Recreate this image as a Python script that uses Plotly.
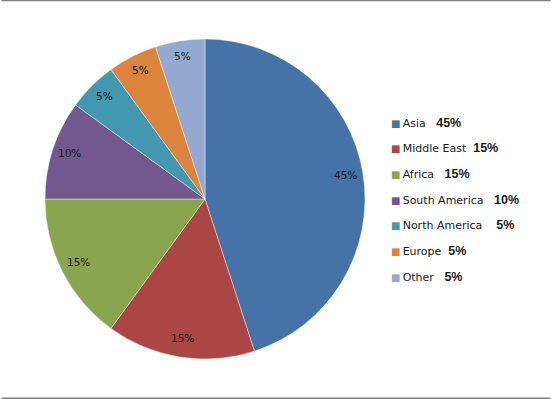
import math
import plotly.graph_objects as go

categories = ["Asia", "Middle East", "Africa", "South America", "North America", "Europe", "Other"]
values = [45, 15, 15, 10, 5, 5, 5]
value_labels = ["45%", "15%", "15%", "10%", "5%", "5%", "5%"]
colors = ["#4572A7", "#AA4643", "#89A54E", "#71588F", "#4198AF", "#DB843D", "#93A9CF"]
legend_gaps = [3, 2, 3, 3, 4, 2, 3]

W, H = 552, 399
CX, CY, R = 205, 199, 160

fig = go.Figure()
fig.add_trace(go.Pie(
    labels=categories,
    values=values,
    sort=False,
    direction="clockwise",
    rotation=0,
    marker=dict(colors=colors, line=dict(color="rgba(255,255,255,0.6)", width=0.7)),
    textinfo="none",
    hoverinfo="label+percent",
    showlegend=False,
    domain=dict(x=[(CX - R) / W, (CX + R) / W], y=[1 - (CY + R) / H, 1 - (CY - R) / H]),
))

annotations = []
total = sum(values)
cum = 0
for v, lab in zip(values, value_labels):
    mid = (cum + v / 2) / total * 2 * math.pi
    cum += v
    rl = 0.89 * R
    px = CX + rl * math.sin(mid)
    py = CY - rl * math.cos(mid) - 2
    annotations.append(dict(
        x=px / W, y=1 - py / H, xref="paper", yref="paper",
        text=lab, showarrow=False, xanchor="center", yanchor="middle",
        font=dict(family="DejaVu Sans", size=10.5, color="#1a1a1a"),
    ))

leg_x = 389
leg_y0 = 122.5
leg_dy = 25.7
for i, (cat, lab, col, gap) in enumerate(zip(categories, value_labels, colors, legend_gaps)):
    txt = (f"<span style='color:{col};font-size:10px'>■</span>"
           f"<span style='font-size:11px'>\u2009{cat}</span>" + "\u00a0" * gap +
           f"<span style='font-family:Liberation Sans, Arial;font-size:12.5px'><b>{lab}</b></span>")
    annotations.append(dict(
        x=leg_x / W, y=1 - (leg_y0 + i * leg_dy) / H, xref="paper", yref="paper",
        text=txt, showarrow=False, xanchor="left", yanchor="middle",
        font=dict(family="DejaVu Sans", size=11, color="#1a1a1a"),
    ))

fig.update_layout(
    width=W, height=H,
    margin=dict(l=0, r=0, t=0, b=0),
    paper_bgcolor="white",
    plot_bgcolor="white",
    annotations=annotations,
    shapes=[
        dict(type="line", xref="paper", yref="paper", x0=1.5 / W, x1=1 - 1.5 / W, y0=1 - 0.6 / H, y1=1 - 0.6 / H,
             line=dict(color="#808080", width=1.5)),
        dict(type="line", xref="paper", yref="paper", x0=1.5 / W, x1=1 - 1.5 / W, y0=1 - 398.2 / H, y1=1 - 398.2 / H,
             line=dict(color="#808080", width=1.5)),
    ],
)

fig.write_html("out.html", config={"displayModeBar": False},
               post_script="document.body.style.margin='0';document.body.style.overflow='hidden';")
